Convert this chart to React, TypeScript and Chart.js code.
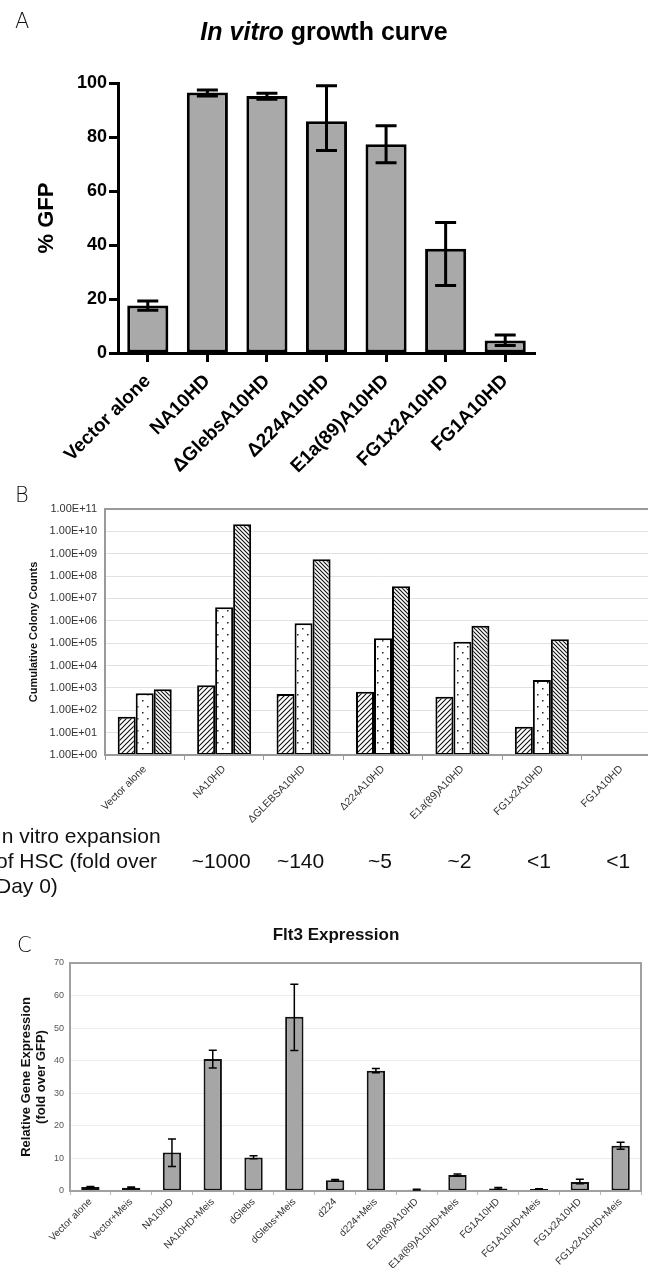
import React, { useEffect, useRef } from "react";
import { Chart, registerables } from "chart.js";
Chart.register(...registerables);

const FONT = '"Liberation Sans", Arial, Helvetica, sans-serif';
const PANEL_FONT = '200 21px "DejaVu Sans", "Open Sans", sans-serif';

// ---------- Panel A: In vitro growth curve ----------
const growthLabels = ["Vector alone", "NA10HD", "\u0394GlebsA10HD", "\u0394224A10HD", "E1a(89)A10HD", "FG1x2A10HD", "FG1A10HD"];
const growthGfp = [17.6, 96.5, 95.2, 85.8, 77.3, 38.6, 4.6];
const growthLow = [15.8, 95.2, 94.0, 75.0, 70.5, 25.0, 2.8];
const growthHigh = [19.3, 97.4, 96.2, 99.0, 84.2, 48.3, 6.7];

// ---------- Panel B: Cumulative colony counts ----------
const colonyLabels = ["Vector alone", "NA10HD", "\u0394GLEBSA10HD", "\u0394224A10HD", "E1a(89)A10HD", "FG1x2A10HD", "FG1A10HD"];
const colonyRound1 = [51, 1310, 535, 680, 405, 18.5, null];
const colonyRound2 = [575, 4.0e6, 7.8e5, 1.66e5, 1.17e5, 2250, null];
const colonyRound3 = [870, 2.1e10, 5.6e8, 3.5e7, 6.0e5, 1.5e5, null];
const colonyTicks = [1e0, 1e1, 1e2, 1e3, 1e4, 1e5, 1e6, 1e7, 1e8, 1e9, 1e10, 1e11];
const expansionCaption = ["In vitro expansion", "of HSC (fold over", "Day 0)"];
const expansionFold = ["", "~1000", "~140", "~5", "~2", "<1", "<1"];

// ---------- Panel C: Flt3 expression ----------
const flt3Labels = ["Vector alone", "Vector+Meis", "NA10HD", "NA10HD+Meis", "dGlebs", "dGlebs+Meis", "d224", "d224+Meis", "E1a(89)A10HD", "E1a(89)A10HD+Meis", "FG1A10HD", "FG1A10HD+Meis", "FG1x2A10HD", "FG1x2A10HD+Meis"];
const flt3Values = [1.2, 1.0, 11.8, 40.5, 10.3, 53.5, 3.3, 36.9, 0.4, 4.9, 0.8, 0.6, 2.8, 13.9];
const flt3Low = [1.0, 0.8, 7.5, 37.8, 9.9, 43.1, 3.0, 36.3, 0.3, 4.6, 0.5, 0.5, 2.2, 12.8];
const flt3High = [1.4, 1.2, 16.0, 43.2, 10.8, 63.5, 3.5, 37.6, 0.5, 5.2, 1.1, 0.7, 3.6, 15.0];

function errorBars(id: string, low: number[], high: number[], lw: number, capPx: number) {
  return {
    id,
    afterDatasetsDraw(chart: any) {
      const meta = chart.getDatasetMeta(0);
      const y = chart.scales.y;
      const ctx = chart.ctx;
      ctx.save();
      ctx.strokeStyle = "#000";
      ctx.lineWidth = lw;
      meta.data.forEach((bar: any, i: number) => {
        if (low[i] == null || high[i] == null) return;
        const x = bar.x;
        const yl = y.getPixelForValue(low[i]);
        const yh = y.getPixelForValue(high[i]);
        ctx.beginPath();
        ctx.moveTo(x, yl);
        ctx.lineTo(x, yh);
        ctx.moveTo(x - capPx / 2, yl);
        ctx.lineTo(x + capPx / 2, yl);
        ctx.moveTo(x - capPx / 2, yh);
        ctx.lineTo(x + capPx / 2, yh);
        ctx.stroke();
      });
      ctx.restore();
    },
  };
}

function panelLetter(id: string, letter: string, x: number, y: number) {
  return {
    id,
    afterDraw(chart: any) {
      const ctx = chart.ctx;
      ctx.save();
      ctx.font = PANEL_FONT;
      ctx.fillStyle = "#111";
      ctx.textAlign = "left";
      ctx.textBaseline = "alphabetic";
      ctx.fillText(letter, x, y);
      ctx.restore();
    },
  };
}

function centeredTitle(id: string, text: string, font: string, x: number, y: number) {
  return {
    id,
    afterDraw(chart: any) {
      const ctx = chart.ctx;
      ctx.save();
      ctx.font = font;
      ctx.fillStyle = "#111";
      ctx.textAlign = "center";
      ctx.textBaseline = "alphabetic";
      ctx.fillText(text, x, y);
      ctx.restore();
    },
  };
}

function frame(id: string, color: string) {
  return {
    id,
    afterDatasetsDraw(chart: any) {
      const a = chart.chartArea;
      const ctx = chart.ctx;
      ctx.save();
      ctx.strokeStyle = color;
      ctx.lineWidth = 2;
      ctx.strokeRect(a.left, a.top, a.right - a.left, a.bottom - a.top);
      ctx.restore();
    },
  };
}

function hatch(dir: number, s: number, lw: number) {
  const c = document.createElement("canvas");
  c.width = s;
  c.height = s;
  const g = c.getContext("2d")!;
  g.fillStyle = "#fff";
  g.fillRect(0, 0, s, s);
  g.strokeStyle = "#111";
  g.lineWidth = lw;
  g.beginPath();
  if (dir > 0) {
    g.moveTo(0, s); g.lineTo(s, 0);
    g.moveTo(-s, s); g.lineTo(s, -s);
    g.moveTo(0, 2 * s); g.lineTo(2 * s, 0);
  } else {
    g.moveTo(0, 0); g.lineTo(s, s);
    g.moveTo(-s, 0); g.lineTo(s, 2 * s);
    g.moveTo(0, -s); g.lineTo(2 * s, s);
  }
  g.stroke();
  return g.createPattern(c, "repeat");
}

function dots() {
  const c = document.createElement("canvas");
  c.width = 10;
  c.height = 12;
  const g = c.getContext("2d")!;
  g.fillStyle = "#fff";
  g.fillRect(0, 0, 10, 12);
  g.fillStyle = "#222";
  g.fillRect(2, 2, 1.5, 1.5);
  g.fillRect(7, 8, 1.5, 1.5);
  return g.createPattern(c, "repeat");
}

function fmtE(v: number) {
  const [m, e] = v.toExponential(2).split("e");
  const n = parseInt(e, 10);
  return m + "E" + (n < 0 ? "-" : "+") + String(Math.abs(n)).padStart(2, "0");
}

function PanelA() {
  const ref = useRef<HTMLCanvasElement>(null);
  useEffect(() => {
    const titlePlugin = {
      id: "titleA",
      afterDraw(chart: any) {
        const ctx = chart.ctx;
        ctx.save();
        const p1 = "In vitro";
        const p2 = " growth curve";
        ctx.font = `italic bold 25px ${FONT}`;
        const w1 = ctx.measureText(p1).width;
        ctx.font = `bold 25px ${FONT}`;
        const w2 = ctx.measureText(p2).width;
        const x0 = chart.width / 2 - (w1 + w2) / 2;
        ctx.fillStyle = "#000";
        ctx.textBaseline = "alphabetic";
        ctx.textAlign = "left";
        ctx.font = `italic bold 25px ${FONT}`;
        ctx.fillText(p1, x0, 40);
        ctx.font = `bold 25px ${FONT}`;
        ctx.fillText(p2, x0 + w1, 40);
        ctx.restore();
      },
    };
    const chart = new Chart(ref.current!, {
      type: "bar",
      data: {
        labels: growthLabels,
        datasets: [
          {
            data: growthGfp,
            backgroundColor: "#a9a9a9",
            borderColor: "#000",
            borderWidth: 3,
            borderSkipped: false,
            barPercentage: 0.69,
            categoryPercentage: 1,
          },
        ],
      },
      options: {
        animation: false,
        responsive: false,
        layout: { padding: { top: 83, right: 113, left: 0, bottom: 0 } },
        plugins: { legend: { display: false }, tooltip: { enabled: false } },
        scales: {
          x: {
            offset: true,
            grid: { offset: false, drawOnChartArea: false, tickLength: 9, tickWidth: 3, tickColor: "#000" },
            border: { color: "#000", width: 3 },
            ticks: {
              autoSkip: false,
              maxRotation: 45,
              minRotation: 45,
              color: "#000",
              font: { family: FONT, size: 19, weight: "bold" },
              padding: 8,
            },
            afterFit: (s: any) => { s.height = 137; },
          },
          y: {
            min: 0,
            max: 100,
            ticks: { stepSize: 20, color: "#000", font: { family: FONT, size: 18, weight: "bold" }, padding: 2 },
            grid: { drawOnChartArea: false, tickLength: 9, tickWidth: 3, tickColor: "#000" },
            border: { color: "#000", width: 3 },
            title: {
              display: true,
              text: "% GFP",
              color: "#000",
              font: { family: FONT, size: 22, weight: "bold" },
              padding: { top: 34, bottom: 0 },
            },
            afterFit: (s: any) => { s.width = 118; },
          },
        },
      } as any,
      plugins: [errorBars("errA", growthLow, growthHigh, 3, 21), titlePlugin, panelLetter("letA", "A", 15, 28)],
    });
    return () => chart.destroy();
  }, []);
  return <canvas ref={ref} width={648} height={490} style={{ position: "absolute", left: 0, top: 0, display: "block" }} />;
}

function PanelB() {
  const ref = useRef<HTMLCanvasElement>(null);
  useEffect(() => {
    const captionPlugin = {
      id: "captionB",
      afterDraw(chart: any) {
        const ctx = chart.ctx;
        const xs = chart.scales.x;
        ctx.save();
        ctx.font = `21px ${FONT}`;
        ctx.fillStyle = "#111";
        ctx.textBaseline = "alphabetic";
        ctx.textAlign = "left";
        expansionCaption.forEach((line, i) => ctx.fillText(line, -4, 373 + i * 25));
        ctx.textAlign = "center";
        expansionFold.forEach((t, i) => {
          if (t) ctx.fillText(t, xs.getPixelForValue(i) - 3, 398);
        });
        ctx.restore();
      },
    };
    const common = { borderColor: "#000", borderWidth: 2, borderSkipped: false, categoryPercentage: 0.68, barPercentage: 1 };
    const chart = new Chart(ref.current!, {
      type: "bar",
      data: {
        labels: colonyLabels,
        datasets: [
          { data: colonyRound1, backgroundColor: hatch(1, 5, 1.1), ...common },
          { data: colonyRound2, backgroundColor: dots(), ...common },
          { data: colonyRound3, backgroundColor: hatch(-1, 4, 1.1), ...common },
        ],
      },
      options: {
        animation: false,
        responsive: false,
        layout: { padding: { top: 39, right: 19, left: 0, bottom: 0 } },
        plugins: { legend: { display: false }, tooltip: { enabled: false } },
        scales: {
          x: {
            grid: { drawOnChartArea: false, tickLength: 5, color: "#9a9a9a" },
            border: { color: "#9a9a9a", width: 2 },
            ticks: {
              autoSkip: false,
              maxRotation: 45,
              minRotation: 45,
              color: "#333",
              font: { family: FONT, size: 10.5 },
              padding: 3,
            },
            afterFit: (s: any) => { s.height = 155; },
          },
          y: {
            type: "logarithmic",
            min: 1,
            max: 1e11,
            afterBuildTicks: (s: any) => { s.ticks = colonyTicks.map((v) => ({ value: v })); },
            ticks: { color: "#333", font: { family: FONT, size: 11 }, padding: 8, callback: (v: any) => fmtE(Number(v)) },
            grid: { color: "#e2e2e2", drawTicks: false },
            border: { color: "#9a9a9a", width: 2 },
            title: {
              display: true,
              text: "Cumulative Colony Counts",
              color: "#111",
              font: { family: FONT, size: 11, weight: "bold" },
              padding: { top: 27, bottom: 0 },
            },
            afterFit: (s: any) => { s.width = 105; },
          },
        },
      } as any,
      plugins: [frame("frameB", "#9a9a9a"), captionPlugin, panelLetter("letB", "B", 15, 32)],
    });
    return () => chart.destroy();
  }, []);
  return <canvas ref={ref} width={680} height={440} style={{ position: "absolute", left: 0, top: 470, display: "block" }} />;
}

function PanelC() {
  const ref = useRef<HTMLCanvasElement>(null);
  useEffect(() => {
    const chart = new Chart(ref.current!, {
      type: "bar",
      data: {
        labels: flt3Labels,
        datasets: [
          {
            data: flt3Values,
            backgroundColor: "#a6a6a6",
            borderColor: "#111",
            borderWidth: 2,
            borderSkipped: false,
            barPercentage: 0.45,
            categoryPercentage: 1,
          },
        ],
      },
      options: {
        animation: false,
        responsive: false,
        layout: { padding: { top: 53, right: 31, left: 0, bottom: 0 } },
        plugins: {
          legend: { display: false },
          tooltip: { enabled: false },
          title: { display: false },
        },
        scales: {
          x: {
            grid: { drawOnChartArea: false, tickLength: 4, color: "#bbb" },
            border: { color: "#a0a0a0", width: 2 },
            ticks: {
              autoSkip: false,
              maxRotation: 45,
              minRotation: 45,
              color: "#333",
              font: { family: FONT, size: 10 },
              padding: 1,
            },
            afterFit: (s: any) => { s.height = 77; },
          },
          y: {
            min: 0,
            max: 70,
            ticks: { stepSize: 10, color: "#555", font: { family: FONT, size: 9 }, padding: 6 },
            grid: { color: "#ececec", drawTicks: false },
            border: { color: "#a0a0a0", width: 2 },
            title: {
              display: true,
              text: ["Relative Gene Expression", "(fold over GFP)"],
              color: "#111",
              font: { family: FONT, size: 13, weight: "bold" },
              padding: { top: 18.5, bottom: 0 },
            },
            afterFit: (s: any) => { s.width = 70; },
          },
        },
      } as any,
      plugins: [
        frame("frameC", "#a0a0a0"),
        errorBars("errC", flt3Low, flt3High, 1.5, 8),
        centeredTitle("titleC", "Flt3 Expression", `bold 17px ${FONT}`, 336, 30),
        panelLetter("letC", "C", 17, 42),
      ],
    });
    return () => chart.destroy();
  }, []);
  return <canvas ref={ref} width={672} height={358} style={{ position: "absolute", left: 0, top: 910, display: "block" }} />;
}

export default function App() {
  return (
    <div style={{ position: "absolute", left: 0, top: 0, width: 648, height: 1268, overflow: "hidden", background: "#fff" }}>
      <PanelA />
      <PanelB />
      <PanelC />
    </div>
  );
}
